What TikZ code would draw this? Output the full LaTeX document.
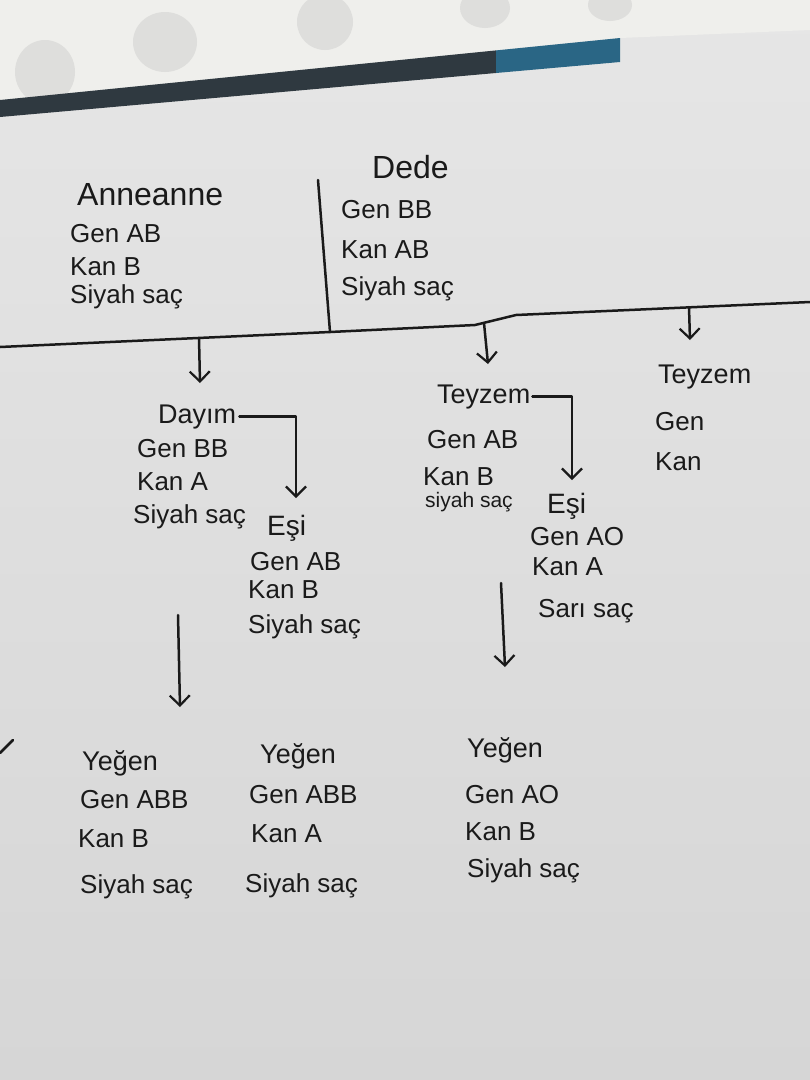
\documentclass[tikz,border=0pt]{standalone}
\usepackage{fontspec}
\setmainfont{Liberation Sans}
\usetikzlibrary{arrows.meta}
\definecolor{ink}{HTML}{1A1A1A}
\definecolor{paperT}{HTML}{E6E6E6}
\definecolor{paperB}{HTML}{D6D6D6}
\definecolor{sleeve}{HTML}{EFEFEC}
\definecolor{hole}{HTML}{DEDEDC}
\definecolor{band}{HTML}{2F3940}
\definecolor{bandblue}{HTML}{2A6685}
\newcommand\hsz[1]{\fontsize{#1}{#1}\selectfont}
\begin{document}
\begin{tikzpicture}[x=1pt,y=-1pt,
  inkline/.style={draw=ink, line width=2.5pt, line cap=round, line join=round},
  arr/.style={inkline, -{Straight Barb[length=10pt,width=20pt,line width=2.2pt]}},
  txt/.style={anchor=base west, inner sep=0pt, text=ink, font=\hsz{26}},
  ttl/.style={anchor=base west, inner sep=0pt, text=ink, font=\hsz{31}}]
\useasboundingbox (0,0) rectangle (810,1080);
% background: paper and plastic sleeve
\shade[top color=paperT, bottom color=paperB] (0,0) rectangle (810,1080);
\fill[sleeve] (0,0) -- (810,0) -- (810,30) -- (620,38) -- (0,100) -- cycle;
\fill[hole] (45,72) ellipse (30 and 32);
\fill[hole] (165,42) ellipse (32 and 30);
\fill[hole] (325,22) ellipse (28 and 28);
\fill[hole] (485,8) ellipse (25 and 20);
\fill[hole] (610,5) ellipse (22 and 16);
\fill[band] (0,100) -- (496,50.4) -- (496,73) -- (0,117) -- cycle;
\fill[bandblue] (496,50.4) -- (620,38) -- (620,62) -- (496,73) -- cycle;

% grandparents
\node[ttl, font=\hsz{32}] (anneanne) at (77,205) {Anneanne};
\node[txt] (a1) at (70,242) {Gen AB};
\node[txt] (a2) at (70,275) {Kan B};
\node[txt] (a3) at (70,303) {Siyah saç};

\node[ttl, font=\hsz{32}] (dede) at (372,178) {Dede};
\node[txt] (d1) at (341,218) {Gen BB};
\node[txt] (d2) at (341,258) {Kan AB};
\node[txt] (d3) at (341,295) {Siyah saç};

% marriage line and family line
\coordinate (L0) at (0,347);
\coordinate (L1) at (330,332);
\coordinate (L2) at (475,325);
\coordinate (L3) at (516,315);
\coordinate (L4) at (810,302);
\coordinate (V0) at (318,180);
\draw[inkline] (L0) -- (L1) -- (L2) -- (L3) -- (L4);
\draw[inkline] (V0) -- (L1);

\coordinate (s1) at (199,338);
\coordinate (t1) at (200,383);
\coordinate (s2) at (484,323);
\coordinate (t2) at (488,364);
\coordinate (s3) at (689,307);
\coordinate (t3) at (690,340);
\draw[arr] (s1) -- (t1);
\draw[arr] (s2) -- (t2);
\draw[arr] (s3) -- (t3);

% Dayim
\node[ttl, font=\hsz{27}] (dayim) at (158,423) {Dayım};
\node[txt] (g1) at (137,457) {Gen BB};
\node[txt] (g2) at (137,490) {Kan A};
\node[txt] (g3) at (133,523) {Siyah saç};
\coordinate (t4) at (296,498);
\draw[arr] ([xshift=3pt]dayim.east) -| (t4);

\node[ttl, font=\hsz{28}] (esi1) at (267,535) {Eşi};
\node[txt] (e1) at (250,570) {Gen AB};
\node[txt] (e2) at (248,598) {Kan B};
\node[txt] (e3) at (248,633) {Siyah saç};

\coordinate (s4) at (178,615);
\coordinate (t6) at (180,707);
\draw[arr] (s4) -- (t6);

% Teyzem (middle)
\node[ttl, font=\hsz{27}] (teyzem) at (437,403) {Teyzem};
\node[txt] (m1) at (427,448) {Gen AB};
\node[txt] (m2) at (423,485) {Kan B};
\node[txt, font=\hsz{21}] (m3) at (425,507) {siyah saç};
\coordinate (t5) at (572,480);
\draw[arr] ([xshift=2pt]teyzem.east) -| (t5);

\node[ttl, font=\hsz{28}] (esi2) at (547,513) {Eşi};
\node[txt] (f1) at (530,545) {Gen AO};
\node[txt] (f2) at (532,575) {Kan A};
\node[txt] (f3) at (538,617) {Sarı saç};

\coordinate (s5) at (501,583);
\coordinate (t7) at (505,667);
\draw[arr] (s5) -- (t7);

% Teyzem (right)
\node[ttl, font=\hsz{27}] (teyzem2) at (658,383) {Teyzem};
\node[txt] (r1) at (655,430) {Gen};
\node[txt] (r2) at (655,470) {Kan};

% Yegen
\node[ttl, font=\hsz{27}] (yegen1) at (82,770) {Yeğen};
\node[txt] (y11) at (80,808) {Gen ABB};
\node[txt] (y12) at (78,847) {Kan B};
\node[txt] (y13) at (80,893) {Siyah saç};

\node[ttl, font=\hsz{27}] (yegen2) at (260,763) {Yeğen};
\node[txt] (y21) at (249,803) {Gen ABB};
\node[txt] (y22) at (251,842) {Kan A};
\node[txt] (y23) at (245,892) {Siyah saç};

\node[ttl, font=\hsz{27}] (yegen3) at (467,757) {Yeğen};
\node[txt] (y31) at (465,803) {Gen AO};
\node[txt] (y32) at (465,840) {Kan B};
\node[txt] (y33) at (467,877) {Siyah saç};

% stray stroke at the left edge
\coordinate (k0) at (0,753);
\coordinate (k1) at (13,740);
\draw[inkline] (k0) -- (k1);
\end{tikzpicture}
\end{document}
